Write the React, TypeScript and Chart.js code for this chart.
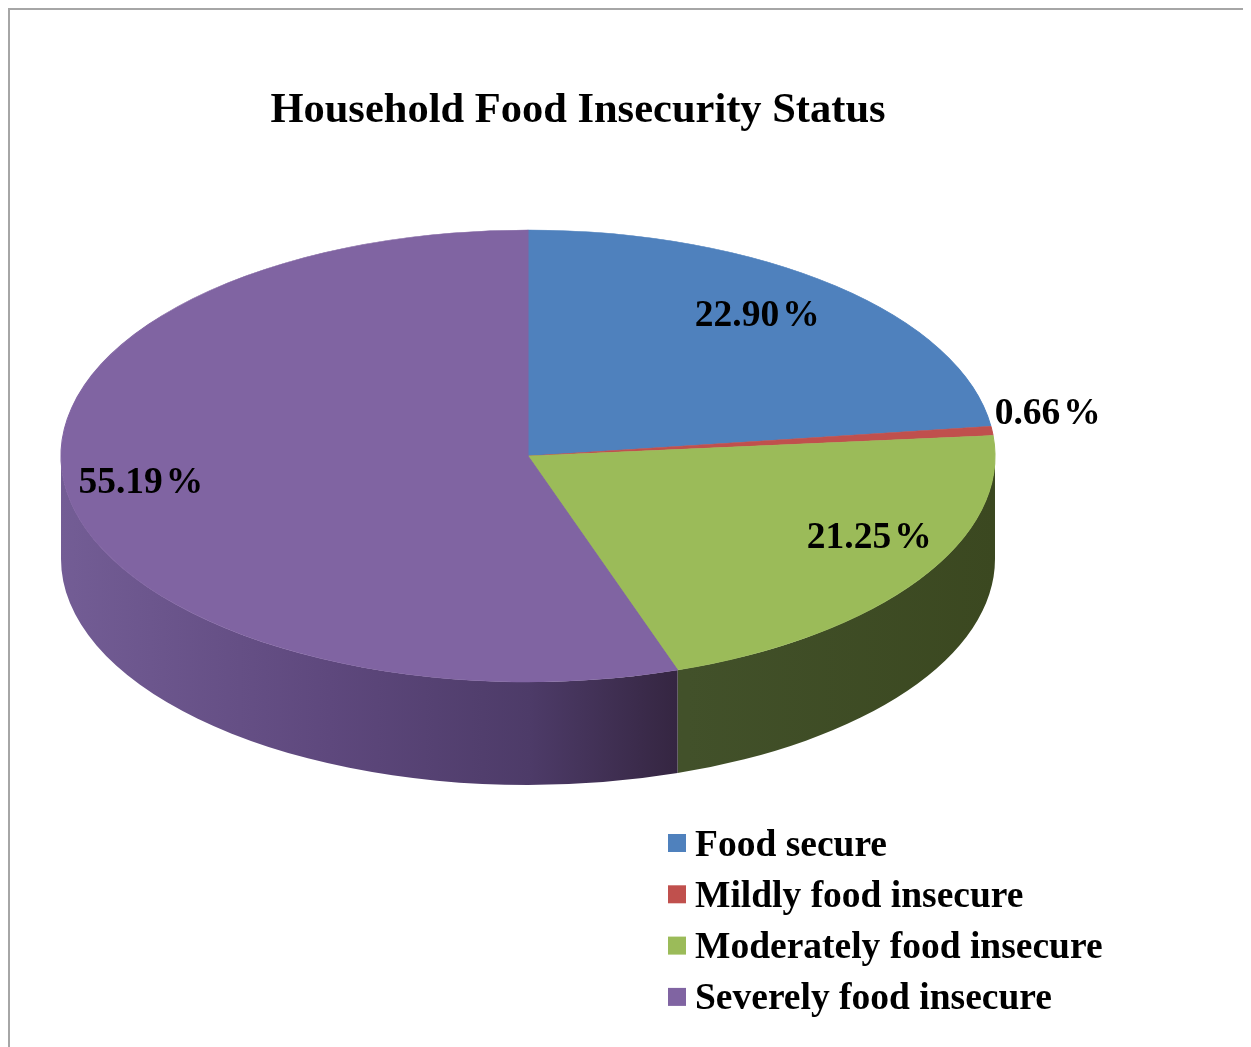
import React, { useEffect, useRef } from "react";
import { Chart, registerables } from "chart.js";

Chart.register(...registerables);

// ---- data ----
const categories = [
  "Food secure",
  "Mildly food insecure",
  "Moderately food insecure",
  "Severely food insecure",
];
const shares = [22.9, 0.66, 21.25, 55.19];
const chartTitle = "Household Food Insecurity Status";

// ---- styles ----
const topColors = ["#4f81bd", "#c0504d", "#9bbb59", "#8064a2"];
const sideStops: [number, string][][] = [
  [[0, "#3a5f8c"], [1, "#243c5a"]],
  [[0, "#8e3b39"], [1, "#5c2624"]],
  [[0, "#46552a"], [0.67, "#42512a"], [1, "#3b4820"]],
  [[0, "#735d95"], [0.288, "#5e487d"], [0.502, "#4d3b68"], [0.673, "#33243e"], [1, "#2a1e33"]],
];
const FONT = '"Liberation Serif", "Times New Roman", serif';
const CANVAS_W = 1236;
const CANVAS_H = 1040;
const GEOM = { cx: 518, cy: 446, rx: 467, ry: 226, depth: 103 };
const LABEL_R = [0.745, 1.12, 0.872, 0.84];
const LABEL_DY = [-16, -16, -28, -6];
const LEGEND = { boxX: 658, textX: 685, y0: 833, step: 51.3, box: 18 };
const TEXT_SIZE = 37.5;

function drawSide(ctx: CanvasRenderingContext2D, a0: number, a1: number, i: number) {
  const { cx, cy, rx, ry, depth } = GEOM;
  const g = ctx.createLinearGradient(cx - rx, 0, cx + rx, 0);
  sideStops[i].forEach(([o, c]) => g.addColorStop(o, c));
  ctx.beginPath();
  ctx.moveTo(cx + rx * Math.cos(a0), cy + ry * Math.sin(a0));
  ctx.ellipse(cx, cy, rx, ry, 0, a0, a1, false);
  ctx.lineTo(cx + rx * Math.cos(a1), cy + depth + ry * Math.sin(a1));
  ctx.ellipse(cx, cy + depth, rx, ry, 0, a1, a0, true);
  ctx.closePath();
  ctx.fillStyle = g;
  ctx.fill();
}

const pie3d = {
  id: "pie3d",
  beforeDatasetsDraw(chart: any) {
    const ctx: CanvasRenderingContext2D = chart.ctx;
    const meta = chart.getDatasetMeta(0);
    meta.data.forEach((el: any, i: number) => {
      const { startAngle, endAngle } = el.getProps(["startAngle", "endAngle"], true);
      for (const k of [-2, 0, 2]) {
        const lo = Math.max(startAngle, k * Math.PI);
        const hi = Math.min(endAngle, k * Math.PI + Math.PI);
        if (hi > lo) drawSide(ctx, lo, hi, i);
      }
    });
    const { x, y, outerRadius } = meta.data[0].getProps(["x", "y", "outerRadius"], true);
    ctx.save();
    ctx.translate(GEOM.cx, GEOM.cy);
    ctx.scale(GEOM.rx / outerRadius, GEOM.ry / outerRadius);
    ctx.translate(-x, -y);
  },
  afterDatasetsDraw(chart: any) {
    const ctx: CanvasRenderingContext2D = chart.ctx;
    ctx.restore();
    const meta = chart.getDatasetMeta(0);
    const { cx, cy, rx, ry } = GEOM;
    ctx.save();
    ctx.font = `bold ${TEXT_SIZE}px ${FONT}`;
    ctx.fillStyle = "#000";
    ctx.textBaseline = "alphabetic";
    ctx.textAlign = "left";
    meta.data.forEach((el: any, i: number) => {
      const { startAngle, endAngle } = el.getProps(["startAngle", "endAngle"], true);
      const mid = (startAngle + endAngle) / 2;
      const px = cx + rx * LABEL_R[i] * Math.cos(mid);
      const py = cy + ry * LABEL_R[i] * Math.sin(mid) + LABEL_DY[i];
      const num = shares[i].toFixed(2);
      const gap = 3;
      const wn = ctx.measureText(num).width;
      const wp = ctx.measureText("%").width;
      const left = px - (wn + gap + wp) / 2;
      ctx.fillText(num, left, py + 12.5);
      ctx.fillText("%", left + wn + gap, py + 12.5);
    });
    ctx.restore();
  },
  afterDraw(chart: any) {
    const ctx: CanvasRenderingContext2D = chart.ctx;
    ctx.save();
    ctx.font = `bold ${TEXT_SIZE}px ${FONT}`;
    ctx.textBaseline = "alphabetic";
    ctx.textAlign = "left";
    chart.data.labels.forEach((lab: string, i: number) => {
      const yc = LEGEND.y0 + LEGEND.step * i;
      ctx.fillStyle = chart.data.datasets[0].backgroundColor[i];
      ctx.fillRect(LEGEND.boxX, yc - LEGEND.box / 2, LEGEND.box, LEGEND.box);
      ctx.fillStyle = "#000";
      ctx.fillText(lab, LEGEND.textX, yc + 12.5);
    });
    ctx.restore();
  },
};

export default function App() {
  const ref = useRef<HTMLCanvasElement>(null);
  useEffect(() => {
    document.documentElement.style.overflow = "hidden";
    document.body.style.overflow = "hidden";
    const chart = new Chart(ref.current as HTMLCanvasElement, {
      type: "pie",
      data: {
        labels: categories,
        datasets: [
          {
            data: shares,
            backgroundColor: topColors,
            borderColor: topColors,
            borderWidth: 1,
            clip: false as any,
          },
        ],
      },
      options: {
        responsive: false,
        animation: false,
        events: [],
        layout: { padding: { right: 100 } },
        plugins: {
          legend: { display: false },
          tooltip: { enabled: false },
          title: {
            display: true,
            text: chartTitle,
            color: "#000",
            font: { family: FONT, size: 42.5, weight: "bold" },
            padding: { top: 76, bottom: 10 },
          },
        },
      },
      plugins: [pie3d],
    });
    return () => chart.destroy();
  }, []);
  return (
    <div
      style={{
        width: CANVAS_W,
        height: CANVAS_H,
        border: "2px solid #a6a6a6",
        borderBottom: "none",
      }}
    >
      <canvas ref={ref} width={CANVAS_W} height={CANVAS_H} style={{ display: "block" }} />
    </div>
  );
}
